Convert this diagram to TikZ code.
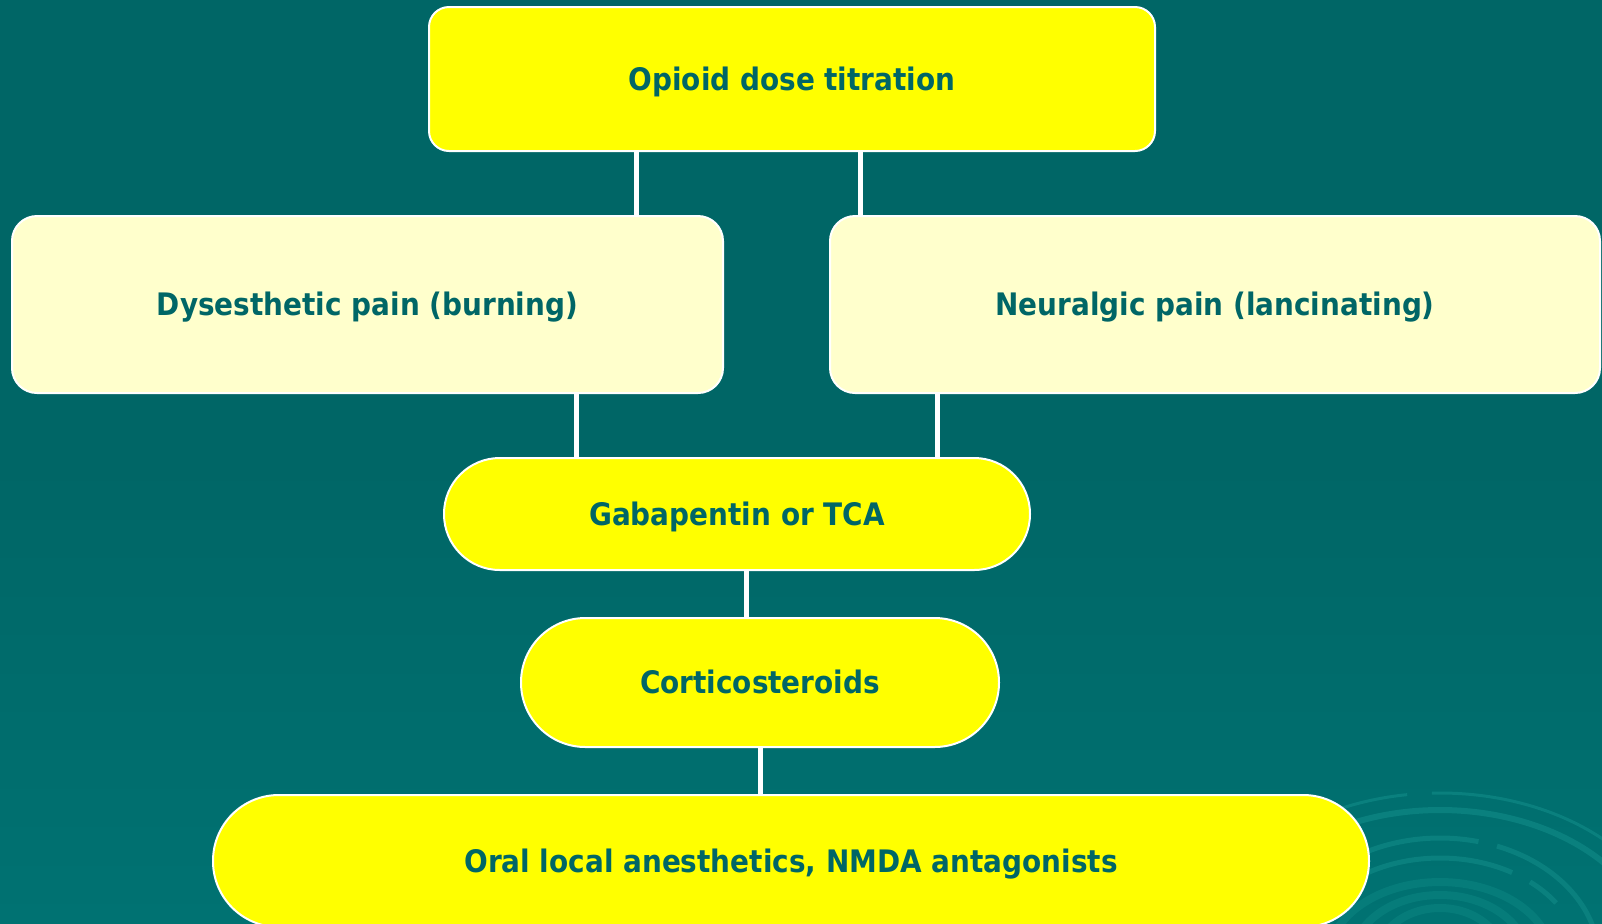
\documentclass[tikz,border=0pt]{standalone}
\usepackage{fontspec}
\setmainfont{DejaVu Sans}[FakeStretch=0.9]
\usepackage{tikz}
\usetikzlibrary{positioning}

\definecolor{slidebg}{RGB}{0,102,102}
\definecolor{slidebgb}{RGB}{0,114,114}
\definecolor{swirl}{RGB}{10,128,126}
\definecolor{swirlin}{RGB}{6,124,122}
\definecolor{boxtext}{RGB}{0,102,102}
\definecolor{brightyellow}{RGB}{255,255,0}
\definecolor{paleyellow}{RGB}{255,255,204}

\begin{document}
\begin{tikzpicture}[x=0.5pt,y=-0.5pt,
  box/.style={draw=white,line width=1pt,text=boxtext,font=\bfseries\fontsize{15.5}{18}\selectfont,inner sep=0pt,text height=11.4pt,text depth=0pt},
  topbox/.style={box,fill=brightyellow,rounded corners=10pt},
  painbox/.style={box,fill=paleyellow,rounded corners=12.5pt,minimum height=88.5pt},
  pillbox/.style={box,fill=brightyellow},
  link/.style={draw=white,line width=2.5pt}]
  % background
  \shade[top color=slidebg,bottom color=slidebgb,middle color=slidebg] (0,0) rectangle (1602,923);
  \useasboundingbox (0,0) rectangle (1602,923);
  \coordinate (sw) at (1440,960);
  \begin{scope}[swirl]
    \draw[line width=1.5pt] ([shift={(243:236 and 167)}]sw) arc[start angle=243,end angle=262,x radius=236,y radius=167];
    \draw[line width=1.5pt] ([shift={(268:236 and 167)}]sw) arc[start angle=268,end angle=340,x radius=236,y radius=167];
    \draw[line width=3pt] ([shift={(245:215 and 150)}]sw) arc[start angle=245,end angle=340,x radius=215,y radius=150];
    \draw[line width=2.5pt] ([shift={(242:159 and 122)}]sw) arc[start angle=242,end angle=284,x radius=159,y radius=122];
    \draw[line width=2.5pt] ([shift={(291:159 and 122)}]sw) arc[start angle=291,end angle=350,x radius=159,y radius=122];
    \draw[line width=2.5pt] ([shift={(238:140 and 102)}]sw) arc[start angle=238,end angle=301,x radius=140,y radius=102];
    \draw[line width=2.5pt] ([shift={(310:140 and 102)}]sw) arc[start angle=310,end angle=326,x radius=140,y radius=102];
  \end{scope}
  \begin{scope}[swirlin,line width=4pt]
    \draw (sw) ellipse[x radius=112,y radius=78];
    \draw (sw) ellipse[x radius=88,y radius=65];
    \draw (sw) ellipse[x radius=64,y radius=52];
  \end{scope}
  % boxes
  \node[topbox,minimum width=363pt,minimum height=72pt] (titr) at (792,79) {Opioid dose titration};
  \node[painbox,minimum width=355.5pt] (dys) at (367.5,304.5) {Dysesthetic pain (burning)};
  \node[painbox,minimum width=385pt] (neur) at (1215,304.5) {Neuralgic pain (lancinating)};
  \node[pillbox,minimum width=293pt,minimum height=56pt,rounded corners=27.9pt] (gaba) at (737,514) {Gabapentin or TCA};
  \node[pillbox,minimum width=239pt,minimum height=64.5pt,rounded corners=32.2pt] (cort) at (760,682.5) {Corticosteroids};
  \node[pillbox,minimum width=578pt,minimum height=66pt,rounded corners=32.9pt] (oral) at (791,861) {Oral local anesthetics, NMDA antagonists};
  % links
  \draw[link] ([xshift=104.25pt]titr.south west) -- ([xshift=104.25pt]titr.south west |- dys.north);
  \draw[link] ([xshift=216pt]titr.south west) -- ([xshift=216pt]titr.south west |- neur.north);
  \draw[link] ([xshift=282.5pt]dys.south west) -- ([xshift=282.5pt]dys.south west |- gaba.north);
  \draw[link] ([xshift=54pt]neur.south west) -- ([xshift=54pt]neur.south west |- gaba.north);
  \draw[link] ([xshift=4.5pt]gaba.south) -- ([xshift=4.5pt]gaba.south |- cort.north);
  \draw[link] (cort.south) -- (cort.south |- oral.north);
\end{tikzpicture}
\end{document}
